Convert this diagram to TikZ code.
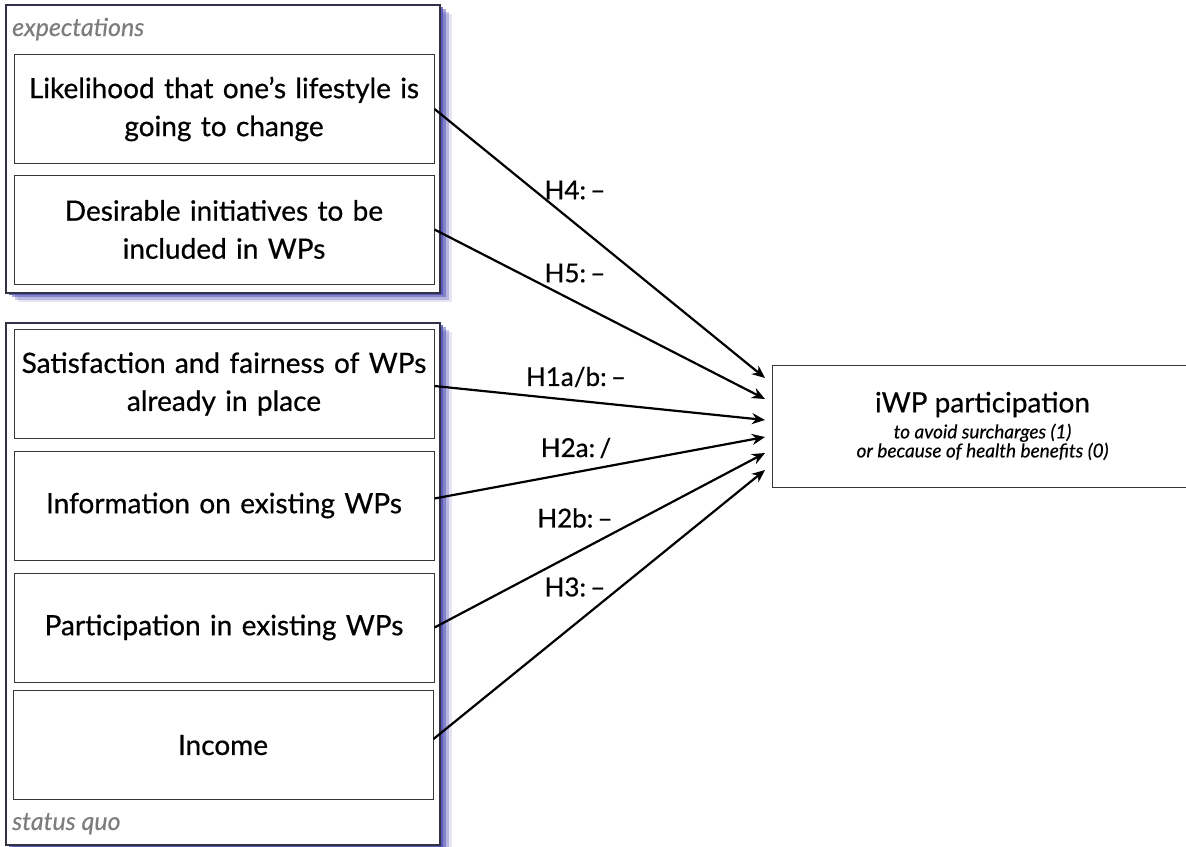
\documentclass[tikz,border=0pt]{standalone}
\usepackage{fontspec}
\setmainfont{Lato}[UprightFeatures={FakeBold=0.6}, ItalicFeatures={FakeBold=0.4}]
\usetikzlibrary{shadows,arrows.meta}
\definecolor{shblue}{RGB}{80,80,180}
\definecolor{grpgray}{RGB}{125,125,125}
\definecolor{boxline}{RGB}{55,55,55}
\definecolor{grpline}{RGB}{50,50,70}
\tikzset{
  grp/.style={draw=grpline, fill=white, line width=1.8pt, minimum width=434pt, inner sep=0pt,
    drop shadow={shadow xshift=12pt, shadow yshift=-9pt, fill=shblue, opacity=.15},
    drop shadow={shadow xshift=9pt, shadow yshift=-7pt, fill=shblue, opacity=.3},
    drop shadow={shadow xshift=6pt, shadow yshift=-4pt, fill=shblue, opacity=.5},
    drop shadow={shadow xshift=3pt, shadow yshift=-2pt, fill=shblue, opacity=.8}},
  grplabel/.style={anchor=base west, inner sep=0pt, text=grpgray, font=\fontsize{25}{28}\selectfont\itshape},
  varbox/.style={draw=boxline, fill=white, line width=1pt, text width=420pt, minimum height=109pt,
    inner sep=0pt, align=center, font=\fontsize{28}{38}\selectfont},
  hyp/.style={font=\fontsize{26}{28}\selectfont, inner sep=1pt},
  link/.style={line width=2.2pt, -{Stealth[length=13pt,width=11pt]}}
}
\begin{document}
\begin{tikzpicture}[x=1pt, y=-1pt]
\useasboundingbox (0,0) rectangle (1186,846);
% Gruppen
\node[grp, minimum height=288pt] (expect) at (223,149) {};
\node[grp, minimum height=522pt] (status) at (223,584) {};
\node[grplabel] (expectlabel) at (12,36) {expectations};
\node[grplabel] (statuslabel) at (12,830) {status quo};
% Einflussgroessen
\node[varbox] (likely) at (224,109) {Likelihood that one’s lifestyle is\\going to change};
\node[varbox] (desire) at (224,229.5) {Desirable initiatives to be\\included in WPs};
\node[varbox] (satisf) at (224,384) {Satisfaction and fairness of WPs\\already in place};
\node[varbox] (inform) at (224,505.5) {Information on existing WPs};
\node[varbox] (partic) at (224,627.5) {Participation in existing WPs};
\node[varbox] (income) at (223,745) {Income};
% Zielgroesse
\node[draw=boxline, fill=white, line width=1pt, minimum width=420pt, minimum height=122pt,
  anchor=west, align=center, inner sep=0pt, font=\fontsize{19}{20}\selectfont] (iwp) at (772,426)
  {{\fontsize{28}{32}\selectfont iWP participation}\\[6pt]
   {\itshape to avoid surcharges (1)}\\[-1pt]
   {\itshape or because of health benefits (0)}};
% Pfeilenden
\coordinate (e4) at (765,378);
\coordinate (e5) at (765,399);
\coordinate (e1) at (765,420);
\coordinate (e2a) at (765,437);
\coordinate (e2b) at (765,453);
\coordinate (e3) at (765,470);
% Hypothesen
\draw[link] (likely.east) -- (e4);
\draw[link] (desire.east) -- (e5);
\draw[link] ([yshift=-2pt]satisf.east) -- (e1);
\draw[link] ([yshift=7pt]inform.east) -- (e2a);
\draw[link] (partic.east) -- (e2b);
\draw[link] ([yshift=6pt]income.east) -- (e3);
\node[hyp] (h4) at (575,190) {H4:\,–};
\node[hyp] (h5) at (575,273) {H5:\,–};
\node[hyp] (h1) at (576,377) {H1a/b:\,–};
\node[hyp] (h2a) at (576,448) {H2a:\,/};
\node[hyp] (h2b) at (575,518) {H2b:\,–};
\node[hyp] (h3) at (575,587) {H3:\,–};
\end{tikzpicture}
\end{document}
